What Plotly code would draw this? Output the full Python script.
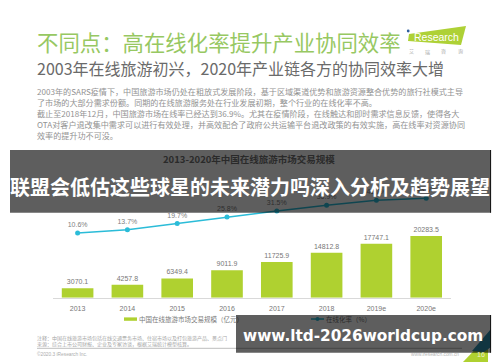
import plotly.graph_objects as go

# ---- data ----
years = ["2013", "2014", "2015", "2016", "2017", "2018", "2019e", "2020e"]
market_size = [3070.1, 4257.8, 6349.4, 9011.9, 11725.9, 14812.8, 17747.1, 20283.5]
online_rate = [10.6, 13.7, 19.7, 25.8, 31.5, 36.9, 41.7, 43.6]

headline = "不同点：高在线化率提升产业协同效率"
subhead = "2003年在线旅游初兴，2020年产业链各方的协同效率大增"
body_lines = [
    "2003年的SARS疫情下，中国旅游市场仍处在粗放式发展阶段，基于区域渠道优势和旅游资源整合优势的旅行社模式主导",
    "了市场的大部分需求份额。同期的在线旅游服务处在行业发展初期，整个行业的在线化率不高。",
    "截止至2018年12月，中国旅游市场在线率已经达到36.9%。尤其在疫情阶段，在线触达和即时需求信息反馈，使得各大",
    "OTA对客户退改集中需求可以进行有效处理，并高效配合了政府公共运输平台退改政策的有效实施，高在线率对资源协同",
    "效率的提升功不可没。",
]
chart_title = "2013-2020年中国在线旅游市场交易规模"
legend_bar = '中国在线旅游市场交易规模（亿元<span style="color:#2a2a2a">）</span>'
legend_line = "在线化率（%）"
note_1 = "注释：中国在线旅游市场包括在线交通票务市场、住宿市场以及打包旅游产品、景点门"
note_2 = "来源：综合上市公司财报、企业及专家访谈，根据艾瑞统计模型核算。"
copyright_text = "©2020.3 iResearch Inc."
site_text = "www.iresearch.com.cn"
banner_title = "联盟会低估这些球星的未来潜力吗深入分析及趋势展望"
banner_url = "www.ltd-2026worldcup.com"

W, H = 500, 362
CJK = "Noto Sans CJK SC"
GREEN = "#afd130"
CYAN = "#2bbcd8"


def px(x):
    return x / W


def py(y):
    return 1 - y / H


def note(x, y, text, size, color, anchor="left", bold=False, font=CJK):
    return dict(
        x=px(x), y=py(y), xref="paper", yref="paper", text=f"<b>{text}</b>" if bold else text,
        showarrow=False, xanchor=anchor, yanchor="middle",
        font=dict(family=font, size=size, color=color), borderpad=0, borderwidth=0,
    )


def rect(x0, y0, x1, y1, color):
    return dict(type="rect", xref="paper", yref="paper", x0=px(x0), x1=px(x1), y0=py(y0), y1=py(y1),
                fillcolor=color, line=dict(width=0), layer="above")


def poly(points, color):
    path = "M " + " L ".join(f"{px(a):.5f} {py(b):.5f}" for a, b in points) + " Z"
    return dict(type="path", xref="paper", yref="paper", path=path, fillcolor=color,
                line=dict(width=0), layer="above")


def seg(x0, y0, x1, y1, color, width):
    return dict(type="line", xref="paper", yref="paper", x0=px(x0), x1=px(x1), y0=py(y0), y1=py(y1),
                line=dict(color=color, width=width), layer="above")


fig = go.Figure()
fig.add_trace(go.Bar(
    x=years, y=market_size, marker=dict(color=GREEN, line=dict(width=0)), width=0.635,
    text=[f"{v:.1f}" for v in market_size], textposition="outside", cliponaxis=False,
    textfont=dict(family="Liberation Sans", size=7, color="#777777"), yaxis="y", showlegend=False,
))
fig.add_trace(go.Scatter(
    x=years, y=online_rate, mode="lines+markers+text", yaxis="y2", showlegend=False,
    line=dict(color=CYAN, width=1.5), marker=dict(color=CYAN, size=5),
    text=[f"{v:.1f}%" for v in online_rate], textposition="top center", cliponaxis=False,
    textfont=dict(family="Liberation Sans", size=7, color="#808080"),
))

shapes = [
    # logo
    poly([(409, 34), (466, 26), (461, 45), (408, 41)], "#aed136"),
    dict(type="circle", xref="paper", yref="paper", x0=px(406.8), x1=px(409.6), y0=py(29.6), y1=py(32.4),
         fillcolor="#2f5f9e", line=dict(width=0), layer="above"),
    # legend swatches
    rect(124, 317.4, 137, 320.8, GREEN),
    seg(311, 319, 324, 319, CYAN, 1.5),
    dict(type="circle", xref="paper", yref="paper", x0=px(315.5), x1=px(319.5), y0=py(317), y1=py(321),
         fillcolor=CYAN, line=dict(width=0), layer="above"),
    # footer rule and corner
    seg(37, 348.3, 462, 348.3, "#bdbdbd", 1),
    poly([(463, 362), (488, 336), (488, 362)], GREEN),
    poly([(472, 351), (491, 329), (491, 347), (484, 352)], "#2f8fb0"),
    # overlay banners
    rect(10, 150, 491, 212.7, "rgba(0,0,0,0.63)"),
    rect(236, 315, 491, 352.7, "rgba(0,0,0,0.63)"),
    seg(490.6, 150, 490.6, 212.7, "#111111", 1),
    seg(490.6, 315, 490.6, 352.7, "#111111", 1),
]

annotations = [
    note(36.5, 41.5, headline, 21.4, "#97c862"),
    note(36.5, 68, subhead, 16, "#6a6a6a"),
    note(414, 36.5, "Research", 10.5, "#ffffff", font="Liberation Sans"),
    note(408.5, 51, "艾", 5, "#a8a8a8"),
    note(425, 51, "瑞", 5, "#a8a8a8"),
    note(441, 51, "咨", 5, "#a8a8a8"),
    note(458, 51, "询", 5, "#a8a8a8"),
    note(249, 159, chart_title, 9.5, "#2a2a2a", anchor="center", bold=True),
    note(139, 319, legend_bar, 6.5, "#7a7a7a"),
    note(326, 319, legend_line, 6.5, "#2a2a2a"),
    note(36.5, 338, note_1, 5, "#a5a5a5"),
    note(36.5, 344, note_2, 5, "#a5a5a5"),
    note(36.5, 354, copyright_text, 4.8, "#adadad", font="Liberation Sans"),
    note(459, 354, site_text, 4.8, "#b5b5b5", anchor="right", font="Liberation Sans"),
    note(481, 354.5, "16", 7, "#f2efc8", anchor="center", font="Liberation Sans"),
    note(250, 186.5, banner_title, 20, "#ffffff", anchor="center", bold=True),
    note(363, 336, banner_url, 15.3, "#ffffff", anchor="center", bold=True, font="DejaVu Sans"),
]
for line_y, line in zip([91, 102.5, 113.5, 125, 136], body_lines):
    annotations.append(note(36.5, line_y, line, 8.1, "#929292"))

fig.update_layout(
    width=W, height=H, margin=dict(l=0, r=0, t=0, b=0), autosize=False,
    paper_bgcolor="white", plot_bgcolor="white", showlegend=False, bargap=0.365,
    xaxis=dict(domain=[px(52.7), px(451.1)], type="category", range=[-0.5, 7.5], showgrid=False,
               zeroline=False, showline=True, linecolor="#d9d9d9", linewidth=1, ticks="",
               ticklabelstandoff=4,
               tickfont=dict(family="Liberation Sans", size=7, color="#777777"), anchor="y"),
    yaxis=dict(domain=[py(297.7), py(190)], range=[0, 35404], visible=False),
    yaxis2=dict(domain=[py(297.7), py(190)], range=[-50.8, 51.4], visible=False, overlaying="y", side="right"),
    shapes=shapes, annotations=annotations,
)

fig.write_html("out.html", post_script="document.body.style.margin='0';document.body.style.background='white';",
               config=dict(displayModeBar=False))
